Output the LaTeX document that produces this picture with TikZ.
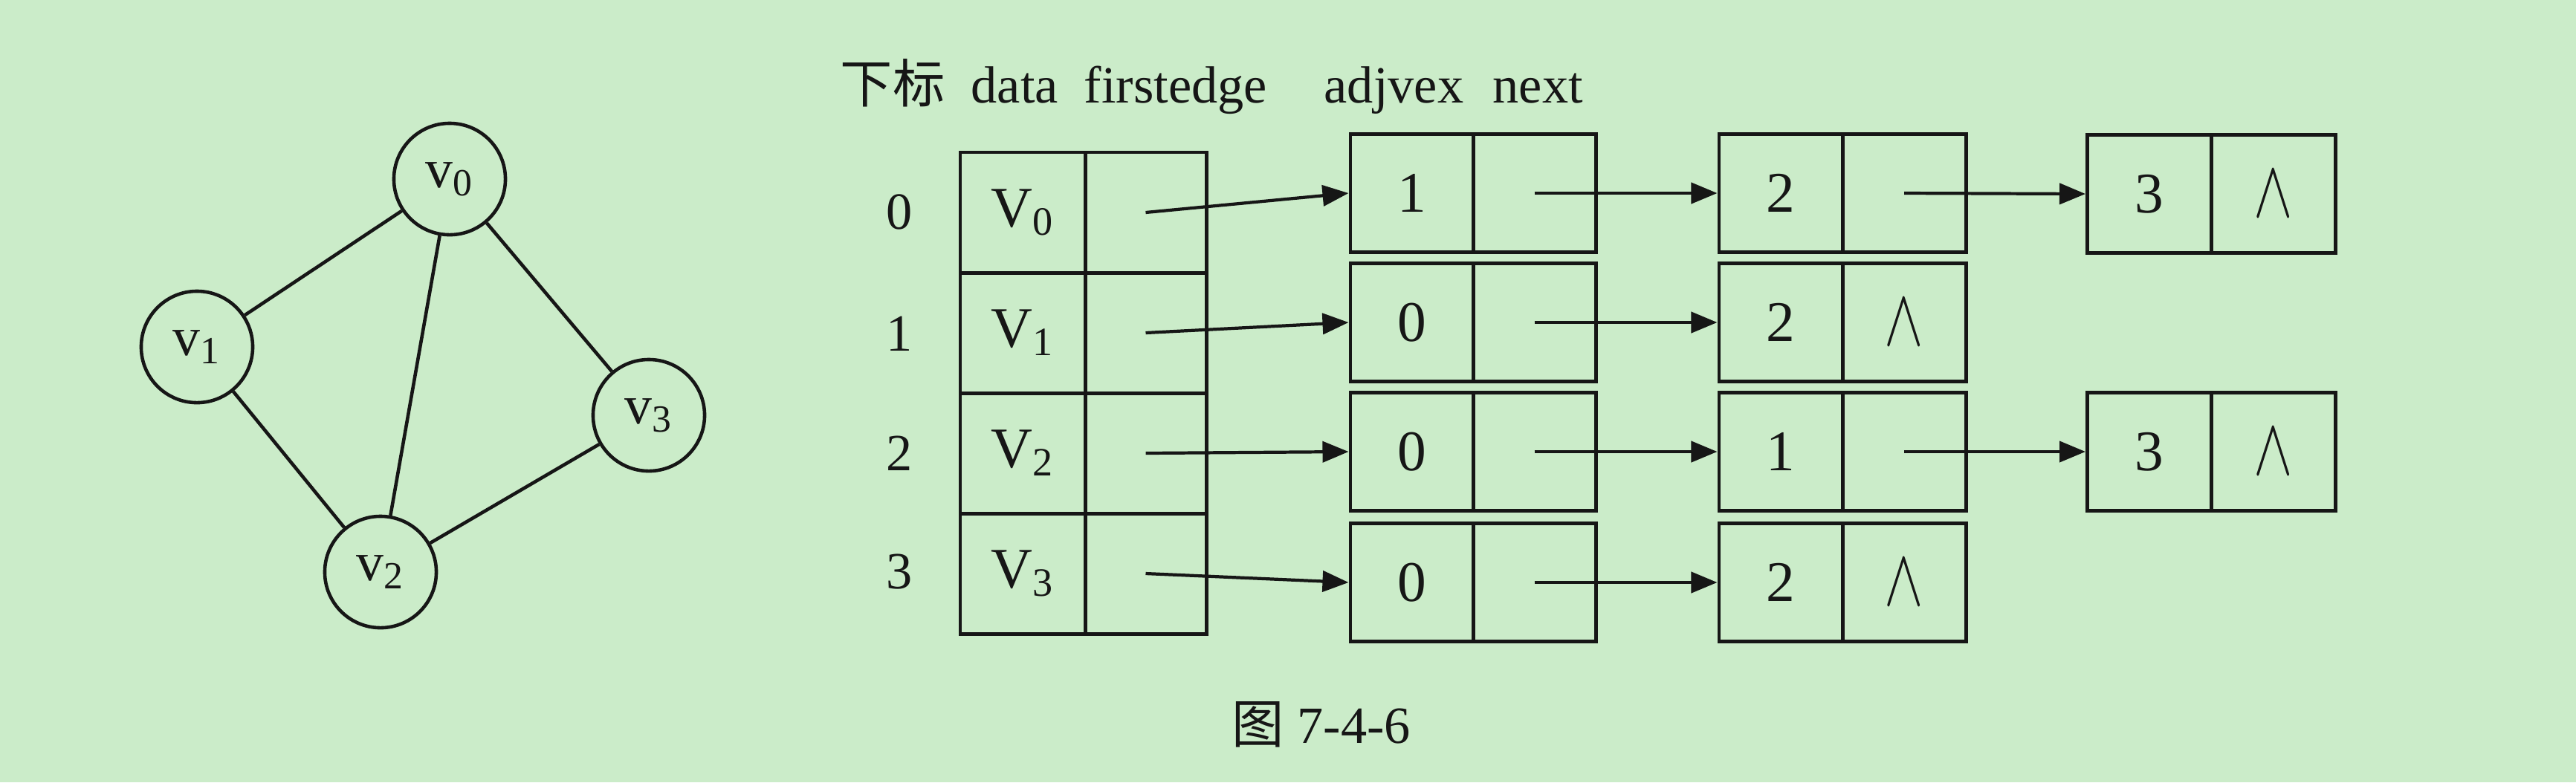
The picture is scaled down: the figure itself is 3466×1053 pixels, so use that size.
\documentclass[tikz,border=0pt]{standalone}
\usepackage{fontspec}
\setmainfont{Liberation Serif}
\newfontfamily\cjk{Noto Sans CJK SC}
\usetikzlibrary{arrows.meta}
\definecolor{bg}{RGB}{203,236,201}
\definecolor{ink}{RGB}{22,22,22}
\newcommand{\nul}{\scalebox{0.9}[1.25]{$\wedge$}}
\begin{document}
\begin{tikzpicture}[x=0.01cm,y=-0.01cm,
  txt/.style={inner sep=0pt,text=ink,font=\fontsize{20}{22}\selectfont},
  cellv/.style={draw=ink,line width=1.4pt,inner sep=0pt,minimum height=1.62cm,text=ink,font=\fontsize{22}{24}\selectfont},
  celle/.style={draw=ink,line width=1.4pt,inner sep=0pt,minimum height=1.59cm,text=ink,font=\fontsize{22}{24}\selectfont},
  nulcell/.style={celle,font=\fontsize{26}{28}\selectfont},
  gnode/.style={circle,draw=ink,line width=1.3pt,minimum size=1.5cm,inner sep=0pt,text=ink,font=\fontsize{21}{24}\selectfont},
  gedge/.style={draw=ink,line width=1.3pt},
  arr/.style={draw=ink,line width=1.2pt,-{Triangle[length=3.5mm,width=2.8mm]}}]
\fill[bg] (0,0) rectangle (3466,1053);
\useasboundingbox (0,0) rectangle (3466,1053);

% graph
\node[gnode] (v0) at (605,241) {v\textsubscript{0}};
\node[gnode] (v1) at (265,467) {v\textsubscript{1}};
\node[gnode] (v2) at (512,770) {v\textsubscript{2}};
\node[gnode] (v3) at (873,559) {v\textsubscript{3}};
\draw[gedge] (v0) -- (v1);
\draw[gedge] (v0) -- (v2);
\draw[gedge] (v0) -- (v3);
\draw[gedge] (v1) -- (v2);
\draw[gedge] (v2) -- (v3);

% header
\node[txt,anchor=base west] (h0) at (1130,138) {\cjk 下标};
\node[txt,anchor=base west] (h1) at (1306,138) {data};
\node[txt,anchor=base west] (h2) at (1458,138) {firstedge};
\node[txt,anchor=base west] (h3) at (1781,138) {adjvex};
\node[txt,anchor=base west] (h4) at (2008,138) {next};

% vertex table
\foreach \r/\y/\ly in {0/286/285,1/448/449,2/610/610,3/772/770} {
  \node[txt] (i\r) at (1210,\ly) {\r};
  \node[cellv,minimum width=1.68cm] (d\r) at (1376,\y) {V\textsubscript{\r}};
  \node[cellv,minimum width=1.63cm] (f\r) at (1541.5,\y) {};
}

% edge nodes, column 1
\node[celle,minimum width=1.65cm] (a01) at (1899.5,260) {1};
\node[celle,minimum width=1.65cm] (n01) at (2064.5,260) {};
\node[celle,minimum width=1.65cm] (a11) at (1899.5,434) {0};
\node[celle,minimum width=1.65cm] (n11) at (2064.5,434) {};
\node[celle,minimum width=1.65cm] (a21) at (1899.5,608) {0};
\node[celle,minimum width=1.65cm] (n21) at (2064.5,608) {};
\node[celle,minimum width=1.65cm] (a31) at (1899.5,784) {0};
\node[celle,minimum width=1.65cm] (n31) at (2064.5,784) {};

% edge nodes, column 2
\node[celle,minimum width=1.66cm] (a02) at (2396,260) {2};
\node[celle,minimum width=1.66cm] (n02) at (2562,260) {};
\node[celle,minimum width=1.66cm] (a12) at (2396,434) {2};
\node[nulcell,minimum width=1.66cm] (n12) at (2562,434) {\nul};
\node[celle,minimum width=1.66cm] (a22) at (2396,608) {1};
\node[celle,minimum width=1.66cm] (n22) at (2562,608) {};
\node[celle,minimum width=1.66cm] (a32) at (2396,784) {2};
\node[nulcell,minimum width=1.66cm] (n32) at (2562,784) {\nul};

% edge nodes, column 3
\node[celle,minimum width=1.67cm] (a03) at (2892,261) {3};
\node[nulcell,minimum width=1.67cm] (n03) at (3059,261) {\nul};
\node[celle,minimum width=1.67cm] (a23) at (2892,608) {3};
\node[nulcell,minimum width=1.67cm] (n23) at (3059,608) {\nul};

% arrows
\draw[arr] (f0.center) -- (a01.west);
\draw[arr] (f1.center) -- (a11.west);
\draw[arr] (f2.center) -- (a21.west);
\draw[arr] (f3.center) -- (a31.west);
\draw[arr] (n01.center) -- (a02.west);
\draw[arr] (n11.center) -- (a12.west);
\draw[arr] (n21.center) -- (a22.west);
\draw[arr] (n31.center) -- (a32.west);
\draw[arr] (n02.center) -- (a03.west);
\draw[arr] (n22.center) -- (a23.west);

% caption
\node[txt,anchor=base west] (cap) at (1657,1000) {{\cjk 图} 7-4-6};
\end{tikzpicture}
\end{document}
